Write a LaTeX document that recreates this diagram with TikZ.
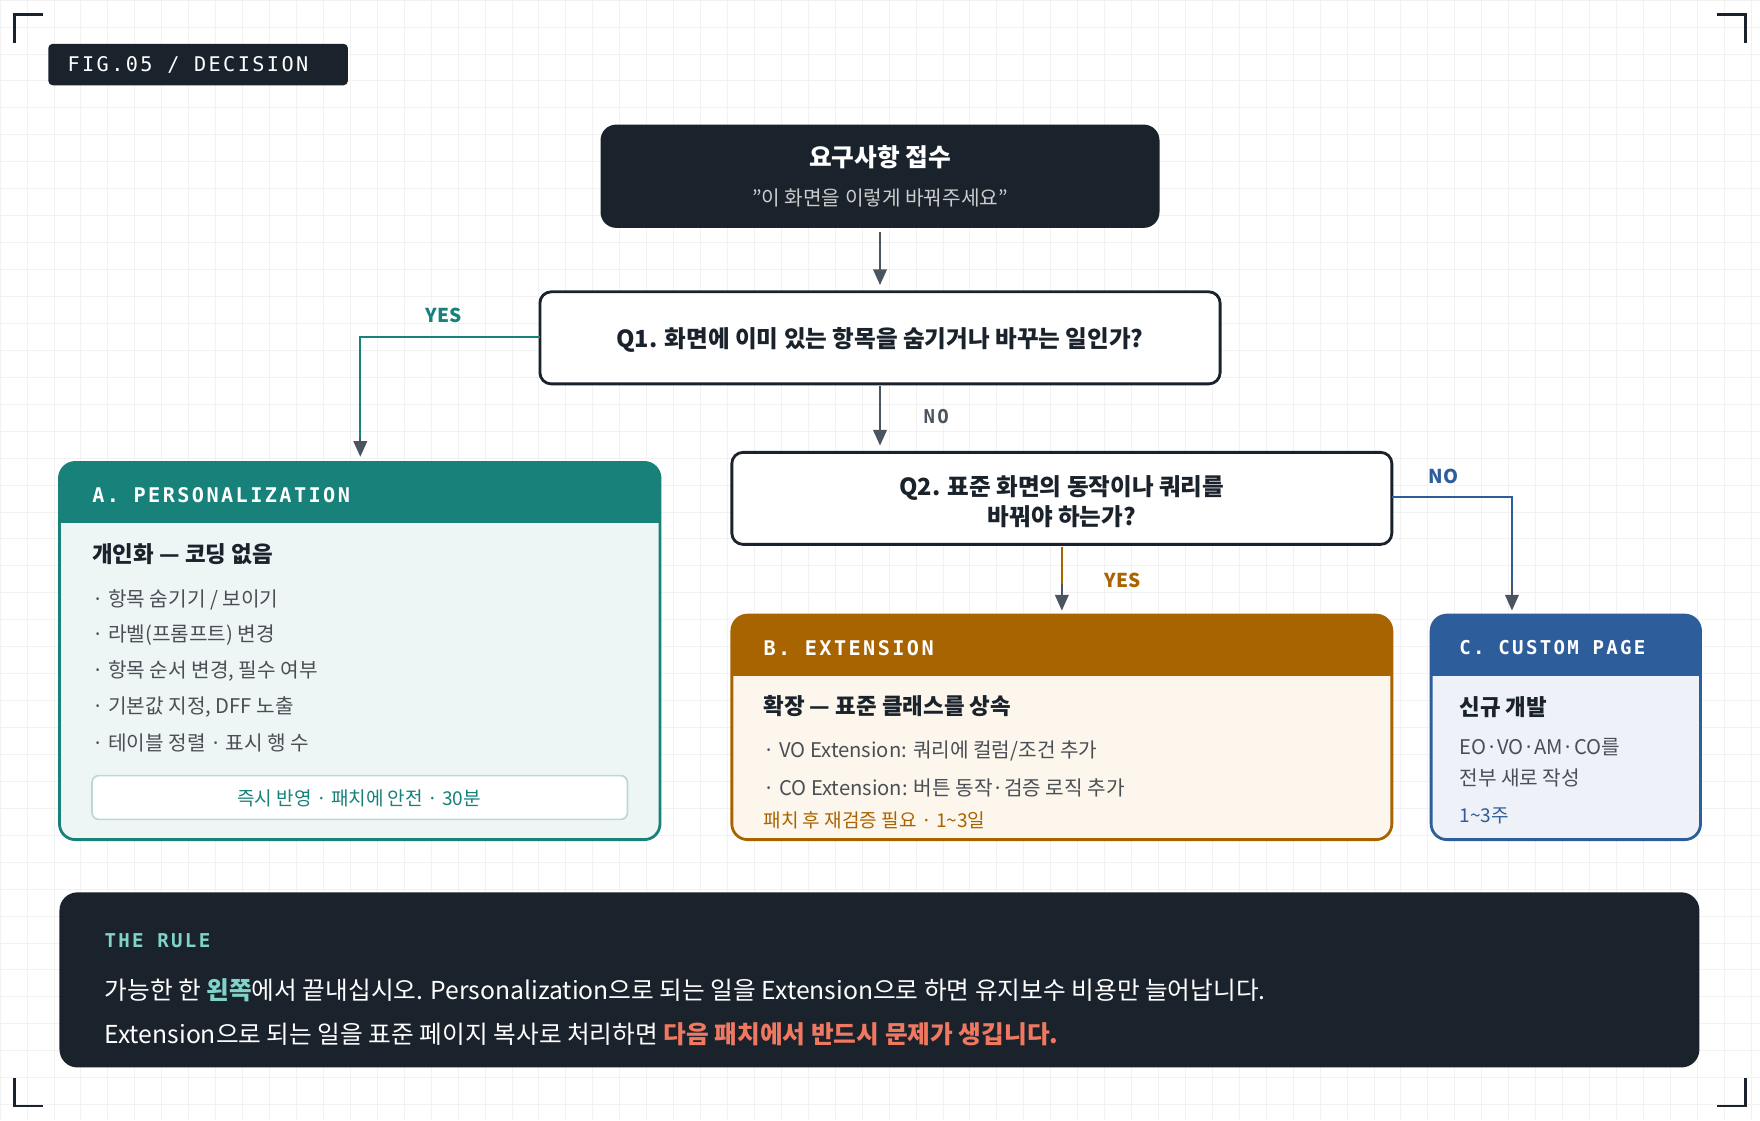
\documentclass[tikz,border=0pt]{standalone}
\usepackage{fontspec}
\setmainfont{Noto Sans CJK KR}
\newfontfamily\monof{DejaVu Sans Mono}[LetterSpace=12]
\usetikzlibrary{arrows.meta}
\definecolor{ink}{HTML}{1A222C}
\definecolor{teal}{HTML}{17817A}
\definecolor{tealbg}{HTML}{EEF6F5}
\definecolor{orng}{HTML}{A86400}
\definecolor{orngbg}{HTML}{FCF6EC}
\definecolor{blu}{HTML}{2D5D9A}
\definecolor{blubg}{HTML}{EEF2F8}
\definecolor{arr}{HTML}{4A5560}
\definecolor{txt}{HTML}{4A4F55}
\definecolor{lteal}{HTML}{7FD3C8}
\definecolor{lred}{HTML}{F07860}
\tikzset{
  fs/.style={font=\fontsize{#1}{#1}\selectfont},
  arrow/.style={line width=2pt,-{Triangle[length=14pt,width=12pt]}},
  qbox/.style={draw=ink,line width=2.5pt,fill=white,rounded corners=10pt},
  lab/.style={anchor=west,inner sep=0pt},
  hdr/.style={lab,text=white,font=\monof\bfseries\fontsize{18}{18}\selectfont},
  item/.style={lab,text=txt,fs=18},
}
\begin{document}
\begin{tikzpicture}[x=1pt,y=-1pt]
\useasboundingbox (0,0) rectangle (1568,998);
\fill[white] (0,0) rectangle (1568,998);
\foreach \i in {0,24,...,1568} \draw[black!5,line width=0.6pt] (\i,0)--(\i,998);
\foreach \i in {0,24,...,998} \draw[black!5,line width=0.6pt] (0,\i)--(1568,\i);
% corners
\draw[ink,line width=2pt] (13,38)--(13,13)--(38,13);
\draw[ink,line width=2pt] (1530,13)--(1555,13)--(1555,38);
\draw[ink,line width=2pt] (13,960)--(13,985)--(38,985);
\draw[ink,line width=2pt] (1530,985)--(1555,985)--(1555,960);
% tag
\fill[ink,rounded corners=4pt] (43,39) rectangle (310,76);
\node[hdr,font=\monof\fontsize{18}{18}\selectfont] (tag) at (60,58) {FIG.05 / DECISION};
% start
\fill[ink,rounded corners=14pt] (535,111) rectangle (1033,203);
\node[text=white,fs=22,font=\bfseries\fontsize{22}{22}\selectfont] (st) at (784,140) {요구사항 접수};
\node[text=black!20,fs=18] (st2) at (784,176) {"이 화면을 이렇게 바꿔주세요"};
\coordinate (sb) at (784,207);
% Q1
\draw[qbox] (481,260) rectangle (1087,342);
\node[font=\bfseries\fontsize{21}{21}\selectfont,text=ink] (q1) at (784,303) {Q1. 화면에 이미 있는 항목을 숨기거나 바꾸는 일인가?};
\coordinate (q1t) at (784,254);
\coordinate (q1l) at (481,300);
\coordinate (q1b) at (784,344);
% Q2
\draw[qbox] (652,403) rectangle (1240,485);
\node[font=\bfseries\fontsize{21}{26}\selectfont,text=ink,align=center] (q2) at (946,447) {Q2. 표준 화면의 동작이나 쿼리를\\바꿔야 하는가?};
\coordinate (q2t) at (784,397);
\coordinate (q2b) at (946,487);
\coordinate (q2r) at (1240,443);
% arrows
\draw[arrow,arr] (sb)--(q1t);
\draw[arrow,arr] (q1b)--(q2t);
\node[text=arr,font=\monof\bfseries\fontsize{17}{17}\selectfont] (no1) at (834,371) {NO};
\coordinate (at) at (321,407);
\draw[line width=2pt,teal] (q1l)-|(321,395);
\draw[arrow,arr] (321,390)--(at);
\node[text=teal,font=\bfseries\fontsize{17}{17}\selectfont] (yes1) at (395,281) {YES};
\coordinate (bt) at (946,544);
\draw[line width=2pt,orng] (q2b)--(946,525);
\draw[arrow,arr] (946,520)--(bt);
\node[text=orng,font=\bfseries\fontsize{17}{17}\selectfont] (yes2) at (1000,517) {YES};
\coordinate (ct) at (1347,544);
\draw[line width=2pt,blu] (q2r)-|(1347,525);
\draw[arrow,arr] (1347,520)--(ct);
\node[text=blu,font=\bfseries\fontsize{17}{17}\selectfont] (no2) at (1286,424) {NO};
% A
\fill[tealbg,rounded corners=14pt] (53,412) rectangle (588,748);
\fill[teal,rounded corners=14pt] (53,412) rectangle (588,480);
\fill[teal] (53,455) rectangle (588,466);
\fill[tealbg] (53,466) rectangle (588,482);
\draw[teal,line width=2.5pt,rounded corners=14pt] (53,412) rectangle (588,748);
\node[hdr] (ah) at (82,441) {A. PERSONALIZATION};
\node[lab,font=\bfseries\fontsize{20}{20}\selectfont,text=ink] (at1) at (82,494) {개인화 — 코딩 없음};
\node[item] (a1) at (82,534) {· 항목 숨기기 / 보이기};
\node[item] (a2) at (82,566) {· 라벨(프롬프트) 변경};
\node[item] (a3) at (82,598) {· 항목 순서 변경, 필수 여부};
\node[item] (a4) at (82,630) {· 기본값 지정, DFF 노출};
\node[item] (a5) at (82,662) {· 테이블 정렬 · 표시 행 수};
\draw[fill=white,draw=teal!30,line width=1.5pt,rounded corners=6pt] (82,691) rectangle (559,730);
\node[text=teal,fs=17] (af) at (320,711) {즉시 반영 · 패치에 안전 · 30분};
% B
\fill[orngbg,rounded corners=14pt] (652,548) rectangle (1240,748);
\fill[orng,rounded corners=14pt] (652,548) rectangle (1240,615);
\fill[orngbg] (652,602) rectangle (1240,618);
\draw[orng,line width=2.5pt,rounded corners=14pt] (652,548) rectangle (1240,748);
\node[hdr] (bh) at (680,577) {B. EXTENSION};
\node[lab,font=\bfseries\fontsize{20}{20}\selectfont,text=ink] (bt1) at (680,629) {확장 — 표준 클래스를 상속};
\node[item] (b1) at (680,669) {· VO Extension: 쿼리에 컬럼/조건 추가};
\node[item] (b2) at (680,702) {· CO Extension: 버튼 동작·검증 로직 추가};
\node[lab,text=orng,fs=17] (bf) at (680,731) {패치 후 재검증 필요 · 1\textasciitilde3일};
% C
\fill[blubg,rounded corners=14pt] (1275,548) rectangle (1515,748);
\fill[blu,rounded corners=14pt] (1275,548) rectangle (1515,615);
\fill[blubg] (1275,602) rectangle (1515,618);
\draw[blu,line width=2.5pt,rounded corners=14pt] (1275,548) rectangle (1515,748);
\node[hdr,font=\monof\bfseries\fontsize{17}{17}\selectfont] (ch) at (1300,577) {C. CUSTOM PAGE};
\node[lab,font=\bfseries\fontsize{20}{20}\selectfont,text=ink] (ct1) at (1300,630) {신규 개발};
\node[item] (c1) at (1300,666) {EO·VO·AM·CO를};
\node[item] (c2) at (1300,693) {전부 새로 작성};
\node[lab,text=blu,fs=17] (c3) at (1300,727) {1\textasciitilde3주};
% rule
\fill[ink,rounded corners=16pt] (53,795) rectangle (1514,951);
\node[lab,text=lteal,font=\monof\bfseries\fontsize{17}{17}\selectfont] (rt) at (93,838) {THE RULE};
\node[lab,text=white,fs=22] (r1) at (93,882) {가능한 한 \textcolor{lteal}{\bfseries 왼쪽}에서 끝내십시오. Personalization으로 되는 일을 Extension으로 하면 유지보수 비용만 늘어납니다.};
\node[lab,text=white,fs=22] (r2) at (93,921) {Extension으로 되는 일을 표준 페이지 복사로 처리하면 \textcolor{lred}{\bfseries 다음 패치에서 반드시 문제가 생깁니다.}};
\end{tikzpicture}
\end{document}
